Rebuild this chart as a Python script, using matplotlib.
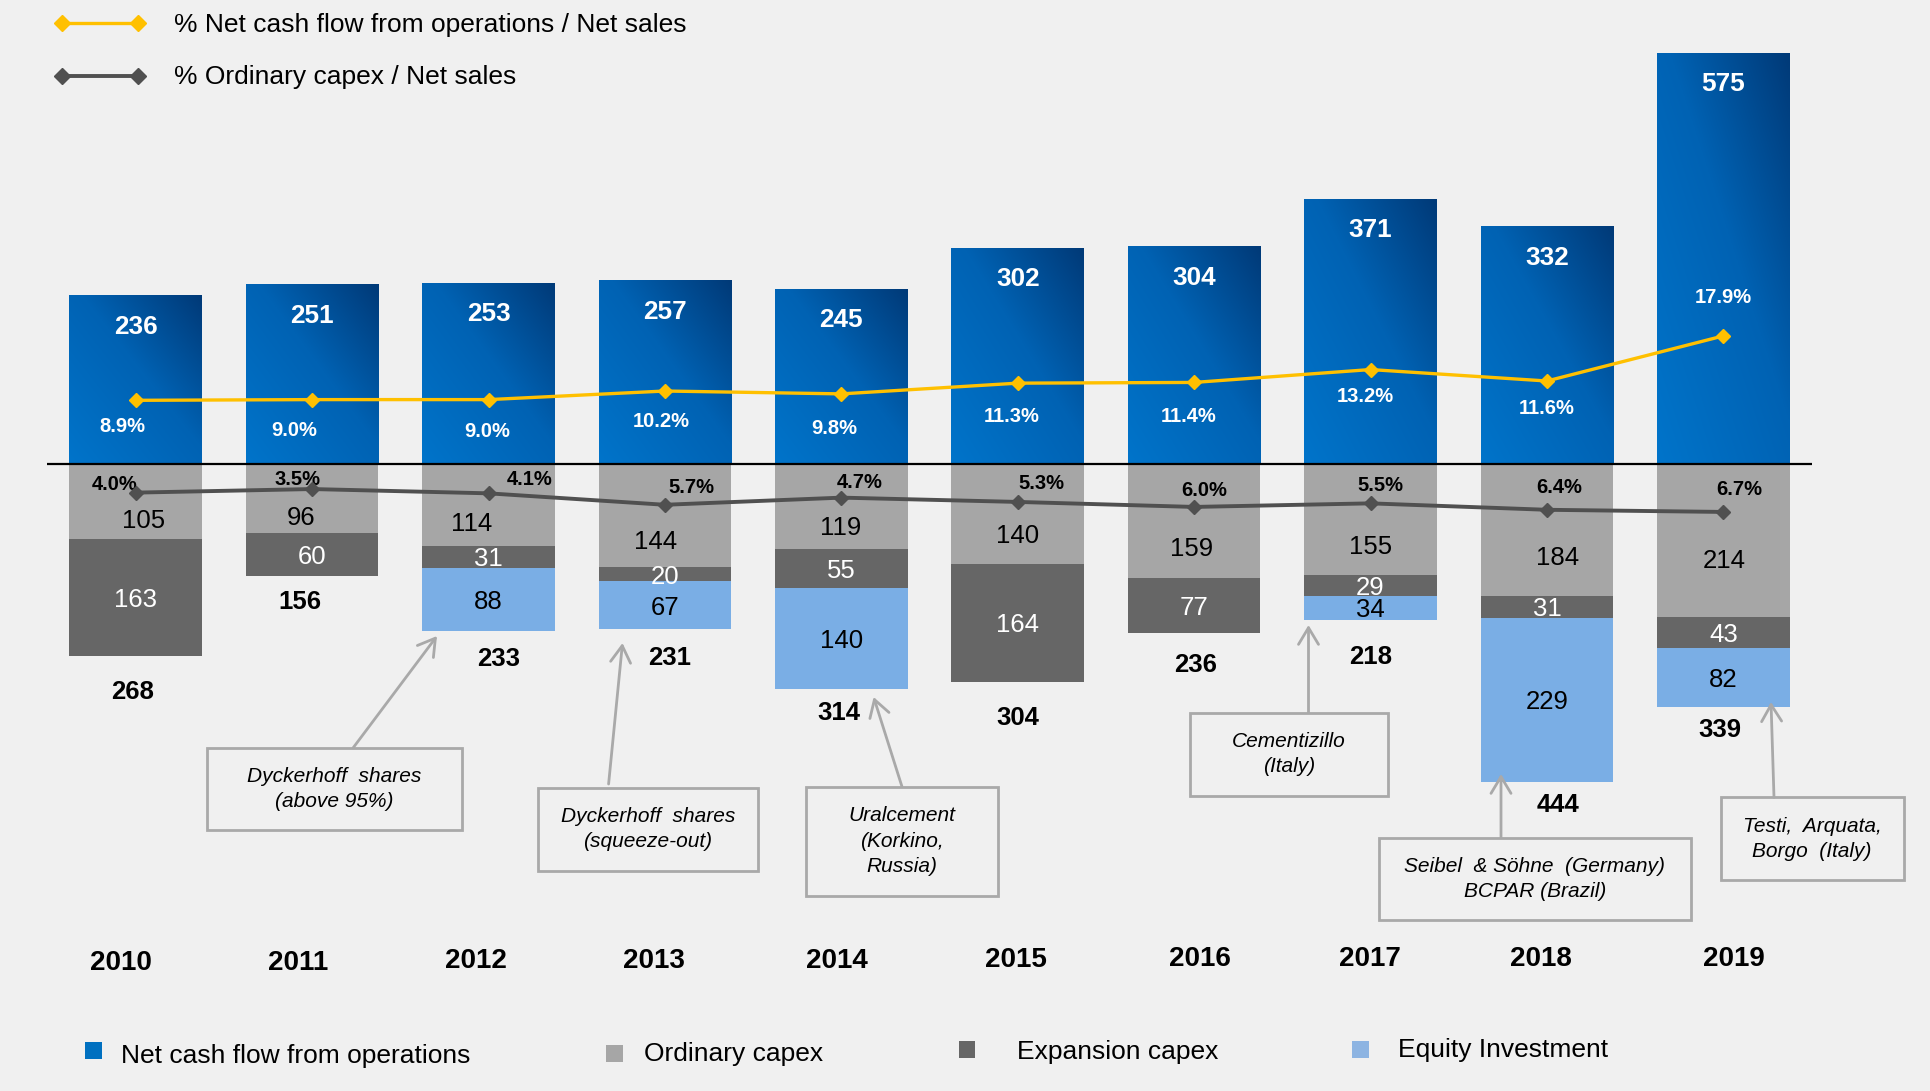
import matplotlib
matplotlib.use("Agg")
import matplotlib.pyplot as plt
import numpy as np
from matplotlib.patches import Rectangle
from matplotlib.lines import Line2D
from matplotlib.colors import LinearSegmentedColormap

plt.rcParams['font.family'] = ['Liberation Sans', 'DejaVu Sans']

# ---------------- data ----------------
years = ['2010', '2011', '2012', '2013', '2014', '2015', '2016', '2017', '2018', '2019']
net_cash_flow = [236, 251, 253, 257, 245, 302, 304, 371, 332, 575]
ordinary_capex = [105, 96, 114, 144, 119, 140, 159, 155, 184, 214]
expansion_capex = [163, 60, 31, 20, 55, 164, 77, 29, 31, 43]
equity_investment = [0, 0, 88, 67, 140, 0, 0, 34, 229, 82]
total_outflow = [268, 156, 233, 231, 314, 304, 236, 218, 444, 339]
ncf_pct = [8.9, 9.0, 9.0, 10.2, 9.8, 11.3, 11.4, 13.2, 11.6, 17.9]
ordinary_pct = [4.0, 3.5, 4.1, 5.7, 4.7, 5.3, 6.0, 5.5, 6.4, 6.7]

notes = ['Dyckerhoff  shares\n(above 95%)',
         'Dyckerhoff  shares\n(squeeze-out)',
         'Uralcement\n(Korkino,\nRussia)',
         'Cementizillo\n(Italy)',
         'Seibel  & Söhne  (Germany)\nBCPAR (Brazil)',
         'Testi,  Arquata,\nBorgo  (Italy)']

legend_top = ['% Net cash flow from operations / Net sales', '% Ordinary capex / Net sales']
legend_bottom = ['Net cash flow from operations', 'Ordinary capex', 'Expansion capex', 'Equity Investment']

# ---------------- layout / style ----------------
W, H = 1930, 1091
BG = '#f0f0f0'
ZERO_PX, PX_PER_UNIT = 464.0, 0.7155
X0_PX, STEP_PX = 135.7, 176.4
BAR_W = 0.752
C_ORD, C_EXP, C_EQ = '#a6a6a6', '#666666', '#7aaee5'
C_YEL, C_GRY = '#ffc000', '#505050'

fig = plt.figure(figsize=(W / 100, H / 100), dpi=100, facecolor=BG)
ax = fig.add_axes([0, 0, 1, 1])
ax.set_facecolor(BG)
xlim = (-X0_PX / STEP_PX, (W - X0_PX) / STEP_PX)
ylim = (-(H - ZERO_PX) / PX_PER_UNIT, ZERO_PX / PX_PER_UNIT)
ax.axis('off')

def F(px, py):
    return (px / W, 1 - py / H)

x = np.arange(len(years))

# gradient net cash flow bars
cmap = LinearSegmentedColormap.from_list('ncf', [(0, '#0074ca'), (0.55, '#0062b3'), (1, '#003a78')])
gx, gy = np.meshgrid(np.linspace(0, 1, 80), np.linspace(0, 1, 80))
grad = (gx + gy) / 2
bars = ax.bar(x, net_cash_flow, width=BAR_W, color='none', linewidth=0, zorder=2)
for xi, v, b in zip(x, net_cash_flow, bars):
    im = ax.imshow(grad, cmap=cmap, vmin=0, vmax=1, origin='lower', aspect='auto',
                   extent=[xi - BAR_W / 2, xi + BAR_W / 2, 0, v], zorder=2,
                   interpolation='bilinear')
    im.set_clip_path(b)

# stacked outflow bars (negative)
ordn = -np.array(ordinary_capex)
expn = -np.array(expansion_capex)
eqn = -np.array(equity_investment)
ax.bar(x, ordn, width=BAR_W, color=C_ORD, linewidth=0, zorder=2)
ax.bar(x, expn, bottom=ordn, width=BAR_W, color=C_EXP, linewidth=0, zorder=2)
ax.bar(x, eqn, bottom=ordn + expn, width=BAR_W, color=C_EQ, linewidth=0, zorder=2)

ax.set_xlim(*xlim)
ax.set_ylim(*ylim)

ax.hlines(0, -0.5, len(years) - 0.5, color='black', lw=1.6, zorder=4)

# secondary axis for percentages (same zero, 10x scale)
ax2 = ax.twinx()
ax2.set_ylim(ylim[0] / 10, ylim[1] / 10)
ax2.axis('off')
ax2.plot(x, ncf_pct, color=C_YEL, lw=2.4, marker='D', ms=7.5, zorder=5)
ax2.plot(x, [-p for p in ordinary_pct], color=C_GRY, lw=2.8, marker='D', ms=7, zorder=5)

# labels of net cash flow values
for xi, v in zip(x, net_cash_flow):
    ax2.annotate(str(v), xy=(xi, v), xycoords=ax.transData, xytext=(0, -29),
                 textcoords='offset pixels', ha='center', va='center_baseline',
                 color='white', fontsize=18.8, fontweight='bold')

ncf_off = [(-13, 24), (-18, 29), (-1, 30), (-4, 28), (-7, 33), (-6, 31), (-5, 32), (-5, 25), (0, 25), (0, -40)]
for xi, p, (dx, dy) in zip(x, ncf_pct, ncf_off):
    ax2.annotate(f'{p:.1f}%', xy=(xi, p), xytext=(dx, -dy), textcoords='offset pixels',
                 ha='center', va='center_baseline', color='white', fontsize=14.5, fontweight='bold')

ord_pct_off = [(-21, -10), (-15, -12), (41, -16), (26, -19), (18, -17), (24, -20), (10, -18), (10, -20), (12, -24), (16, -24)]
for xi, p, (dx, dy) in zip(x, ordinary_pct, ord_pct_off):
    ax2.annotate(f'{p:.1f}%', xy=(xi, -p), xytext=(dx, -dy), textcoords='offset pixels',
                 ha='center', va='center_baseline', color='black', fontsize=14.5, fontweight='bold')

ord_off = [(8, 17), (-11, 17), (-17, 17), (-9, 24), (-1, 19), (0, 19), (-3, 26), (0, 25), (11, 26), (1, 18)]
for xi, o, (dx, dy) in zip(x, ordinary_capex, ord_off):
    ax2.annotate(str(o), xy=(xi, -o / 2), xycoords=ax.transData, xytext=(dx, -dy),
                 textcoords='offset pixels', ha='center', va='center_baseline',
                 color='black', fontsize=18.5)

for xi, o, e in zip(x, ordinary_capex, expansion_capex):
    if e:
        ax2.annotate(str(e), xy=(xi, -o - e / 2), xycoords=ax.transData,
                     ha='center', va='center_baseline', color='white', fontsize=18.5)

for xi, o, e, q in zip(x, ordinary_capex, expansion_capex, equity_investment):
    if q:
        ax2.annotate(str(q), xy=(xi, -o - e - q / 2), xycoords=ax.transData,
                     ha='center', va='center_baseline', color='black', fontsize=18.5)

tot_off = [(-3, 34), (-12, 24), (10, 26), (5, 26), (-2, 22), (0, 34), (1, 30), (0, 35), (11, 21), (-3, 21)]
for xi, t, (dx, dy) in zip(x, total_outflow, tot_off):
    ax2.annotate(str(t), xy=(xi, -t), xycoords=ax.transData, xytext=(dx, -dy),
                 textcoords='offset pixels', ha='center', va='center_baseline',
                 color='black', fontsize=18.5, fontweight='bold')

# year labels
year_dx = [-15, -14, -13, -11, -4, -2, 6, -1, -6, 11]
year_py = [960, 960, 958, 958, 958, 957, 956, 956, 956, 956]
for xi, yl, dx, py in zip(x, years, year_dx, year_py):
    ax2.annotate(yl, xy=(xi, 1 - py / H), xycoords=('data', 'figure fraction'),
                 xytext=(dx, 0), textcoords='offset pixels', ha='center',
                 va='center_baseline', fontsize=20, fontweight='bold', color='black')

# annotation boxes
boxes = [(206.8, 748.3, 462.4, 830), (538, 788, 758, 870.5), (806, 786.7, 998, 895.7),
         (1189.6, 712.7, 1388, 795.7), (1378.9, 837.7, 1691, 920), (1720.7, 797.3, 1903.8, 880)]
arrows = [((353, 748), (437, 636)), ((608.6, 784), (622.5, 643)), ((902, 786.7), (873.6, 697)),
          ((1308.5, 712.7), (1308.5, 625)), ((1501, 837.7), (1501, 774)), ((1774, 797.3), (1771, 702))]
for txt, (x0, y0, x1, y1), (s, t) in zip(notes, boxes, arrows):
    fig.add_artist(Rectangle(F(x0, y1), (x1 - x0) / W, (y1 - y0) / H, transform=fig.transFigure,
                             fill=False, edgecolor='#a9a9a9', lw=2.0, zorder=6))
    cx, cy = (x0 + x1) / 2, (y0 + y1) / 2
    fig.text(*F(cx, cy), txt, ha='center', va='center', style='italic', fontsize=15,
             linespacing=1.42, color='black', zorder=7)
    ax2.annotate('', xy=F(*t), xycoords='figure fraction', xytext=F(*s), textcoords='figure fraction',
                 arrowprops=dict(arrowstyle='->,head_length=0.6,head_width=0.36', color='#a9a9a9',
                                 lw=2.0, mutation_scale=20, shrinkA=0, shrinkB=0))

# top legend
for lbl, col, ly, lw, base in zip(legend_top, [C_YEL, C_GRY], [22.7, 76], [2.4, 2.8], [31.7, 84]):
    fig.add_artist(Line2D([62 / W, 137.7 / W], [1 - ly / H] * 2, transform=fig.transFigure,
                          color=col, lw=lw, marker='D', ms=8))
    fig.text(*F(174.5, base), lbl, ha='left', va='baseline', fontsize=19, color='black')

# bottom legend
sq_cx = [93.3, 614, 967, 1360]
sq_cy = [1050, 1053, 1049, 1049]
txt_x = [120.6, 643.8, 1016.7, 1398.3]
txt_base = [1062.6, 1061, 1059, 1057]
for lbl, col, cx, cy, tx, tb in zip(legend_bottom, ['#0070c0', C_ORD, C_EXP, '#8db4e2'], sq_cx, sq_cy, txt_x, txt_base):
    fig.add_artist(Rectangle(F(cx - 8.5, cy + 8.5), 17 / W, 17 / H, transform=fig.transFigure,
                             facecolor=col, edgecolor='none'))
    fig.text(*F(tx, tb), lbl, ha='left', va='baseline', fontsize=19, color='black')

fig.savefig('out.png', dpi=100, facecolor=BG)
